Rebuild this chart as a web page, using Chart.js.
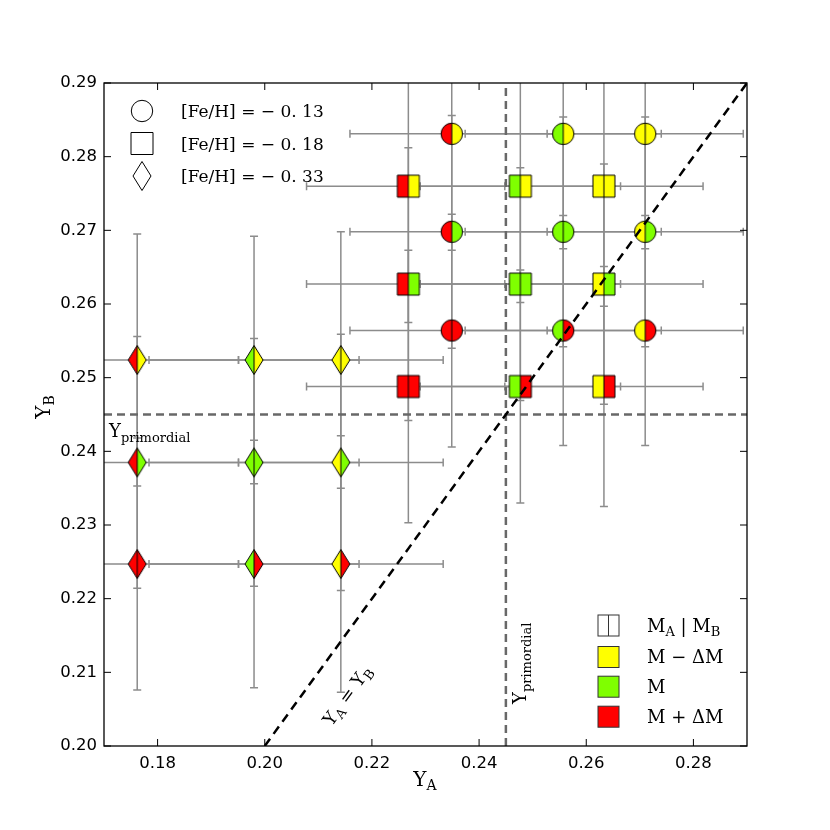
<!DOCTYPE html>
<html>
<head>
<meta charset="utf-8">
<script src="https://cdn.jsdelivr.net/npm/chart.js@4.4.0/dist/chart.umd.min.js"></script>
<style>
  html, body { margin: 0; padding: 0; background: #fff; }
</style>
</head>
<body>
<canvas id="grafico" width="830" height="830"></canvas>
<script>
// circulos: [Fe/H] = -0.13
const circuloYA = [0.2349, 0.2557, 0.2710];
const circuloYB = [0.2831, 0.2698, 0.2564];
const circuloMassaA = ['alta', 'media', 'baixa'];
const circuloMassaB = ['baixa', 'media', 'alta'];
const circuloErroA = [0.0190, 0.0183, 0.0183];
const circuloErroB = [0.0158, 0.0156, 0.0156];

// quadrados: [Fe/H] = -0.18
const quadradoYA = [0.2268, 0.2477, 0.2633];
const quadradoYB = [0.2760, 0.2627, 0.2488];
const quadradoMassaA = ['alta', 'media', 'baixa'];
const quadradoMassaB = ['baixa', 'media', 'alta'];
const quadradoErroA = [0.0190, 0.0187, 0.0185];
const quadradoErroB = [0.0185, 0.0158, 0.0163];

// losangos: [Fe/H] = -0.33
const losangoYA = [0.1762, 0.1980, 0.2142];
const losangoYB = [0.2524, 0.2385, 0.2247];
const losangoMassaA = ['alta', 'media', 'baixa'];
const losangoMassaB = ['baixa', 'media', 'alta'];
const losangoErroA = [0.0189, 0.0196, 0.0191];
const losangoErroB = [0.0171, 0.0168, 0.0174];

const yPrimordial = 0.245;
const ticksX = [0.18, 0.20, 0.22, 0.24, 0.26, 0.28];
const ticksY = [0.20, 0.21, 0.22, 0.23, 0.24, 0.25, 0.26, 0.27, 0.28, 0.29];

const coresMassa = { baixa: '#ffff00', media: '#7fff00', alta: '#ff0000' };

const grupos = [
    { forma: 'circulo', ya: circuloYA, yb: circuloYB, ma: circuloMassaA, mb: circuloMassaB, ea: circuloErroA, eb: circuloErroB },
    { forma: 'quadrado', ya: quadradoYA, yb: quadradoYB, ma: quadradoMassaA, mb: quadradoMassaB, ea: quadradoErroA, eb: quadradoErroB },
    { forma: 'losango', ya: losangoYA, yb: losangoYB, ma: losangoMassaA, mb: losangoMassaB, ea: losangoErroA, eb: losangoErroB }
];

function caminhoForma(ctx, forma, cx, cy) {
    ctx.beginPath();
    if (forma === 'circulo') {
        ctx.arc(cx, cy, 10.7, 0, Math.PI * 2);
    } else if (forma === 'quadrado') {
        ctx.rect(cx - 11, cy - 11, 22, 22);
    } else {
        ctx.moveTo(cx, cy - 14.5);
        ctx.lineTo(cx + 9, cy);
        ctx.lineTo(cx, cy + 14.5);
        ctx.lineTo(cx - 9, cy);
        ctx.closePath();
    }
}

const cacheMarcadores = {};
function marcador(forma, esq, dir) {
    const chave = forma + esq + dir;
    if (cacheMarcadores[chave]) return cacheMarcadores[chave];
    const c = document.createElement('canvas');
    c.width = 26; c.height = 34;
    const g = c.getContext('2d');
    const cx = 13, cy = 17;
    caminhoForma(g, forma, cx, cy);
    g.save();
    g.clip();
    g.fillStyle = esq; g.fillRect(0, 0, cx, 34);
    g.fillStyle = dir; g.fillRect(cx, 0, 13, 34);
    g.restore();
    g.strokeStyle = '#000'; g.lineWidth = 1;
    g.beginPath(); g.moveTo(cx, 0); g.lineTo(cx, 34);
    g.save(); caminhoForma(g, forma, cx, cy); g.clip();
    g.beginPath(); g.moveTo(cx, 0); g.lineTo(cx, 34); g.stroke();
    g.restore();
    caminhoForma(g, forma, cx, cy);
    g.stroke();
    cacheMarcadores[chave] = c;
    return c;
}

function pontos(gr) {
    const lista = [];
    gr.yb.forEach(function (vy, j) {
        gr.ya.forEach(function (vx, i) {
            lista.push({ x: vx, y: vy, a: gr.ma[i], b: gr.mb[j] });
        });
    });
    return lista;
}

// texto com indice (subscrito)
function textoIndice(ctx, partes, x, y, alinhar) {
    let largura = 0;
    partes.forEach(function (p) {
        ctx.font = p.t + 'px "DejaVu Serif"';
        largura += ctx.measureText(p.s).width;
    });
    let px = alinhar === 'center' ? x - largura / 2 : x;
    ctx.textAlign = 'left';
    ctx.textBaseline = 'alphabetic';
    partes.forEach(function (p) {
        ctx.font = p.t + 'px "DejaVu Serif"';
        ctx.fillText(p.s, px, y + (p.dy || 0));
        px += ctx.measureText(p.s).width;
    });
}

const pluginDecoracao = {
    id: 'decoracao',
    beforeDatasetsDraw(chart) {
        const ctx = chart.ctx, a = chart.chartArea, sx = chart.scales.x, sy = chart.scales.y;
        ctx.save();
        ctx.beginPath(); ctx.rect(a.left, a.top, a.right - a.left, a.bottom - a.top); ctx.clip();
        ctx.strokeStyle = '#8c8c8c';
        ctx.lineWidth = 1.5;
        grupos.forEach(function (gr) {
            gr.yb.forEach(function (vy) {
                gr.ya.forEach(function (vx, i) {
                    const px = sx.getPixelForValue(vx), py = sy.getPixelForValue(vy);
                    const x0 = sx.getPixelForValue(vx - gr.ea[i]), x1 = sx.getPixelForValue(vx + gr.ea[i]);
                    const y0 = sy.getPixelForValue(vy - gr.eb[i]), y1 = sy.getPixelForValue(vy + gr.eb[i]);
                    ctx.beginPath();
                    ctx.moveTo(x0, py); ctx.lineTo(x1, py);
                    ctx.moveTo(px, y0); ctx.lineTo(px, y1);
                    ctx.moveTo(x0, py - 4); ctx.lineTo(x0, py + 4);
                    ctx.moveTo(x1, py - 4); ctx.lineTo(x1, py + 4);
                    ctx.moveTo(px - 4, y0); ctx.lineTo(px + 4, y0);
                    ctx.moveTo(px - 4, y1); ctx.lineTo(px + 4, y1);
                    ctx.stroke();
                });
            });
        });
        ctx.restore();
    },
    afterDraw(chart) {
        const ctx = chart.ctx, a = chart.chartArea, sx = chart.scales.x, sy = chart.scales.y;
        ctx.save();
        // moldura e ticks para dentro
        ctx.strokeStyle = '#000';
        ctx.lineWidth = 1.3;
        ctx.strokeRect(a.left, a.top, a.right - a.left, a.bottom - a.top);
        ctx.lineWidth = 1;
        ctx.beginPath();
        ticksX.forEach(function (v) {
            const p = sx.getPixelForValue(v);
            ctx.moveTo(p, a.bottom); ctx.lineTo(p, a.bottom - 7);
            ctx.moveTo(p, a.top); ctx.lineTo(p, a.top + 7);
        });
        ticksY.forEach(function (v) {
            const p = sy.getPixelForValue(v);
            ctx.moveTo(a.left, p); ctx.lineTo(a.left + 7, p);
            ctx.moveTo(a.right, p); ctx.lineTo(a.right - 7, p);
        });
        ctx.stroke();

        ctx.fillStyle = '#000';
        // titulos dos eixos
        textoIndice(ctx, [{ s: 'Y', t: 20 }, { s: 'A', t: 14, dy: 4 }], 425, 786, 'center');
        ctx.save();
        ctx.translate(50, 407);
        ctx.rotate(-Math.PI / 2);
        textoIndice(ctx, [{ s: 'Y', t: 20 }, { s: 'B', t: 14, dy: 4 }], 0, 0, 'center');
        ctx.restore();

        // Y primordial
        textoIndice(ctx, [{ s: 'Y', t: 18 }, { s: 'primordial', t: 13, dy: 5 }], 109, 437, 'left');
        ctx.save();
        ctx.translate(526, 704);
        ctx.rotate(-Math.PI / 2);
        textoIndice(ctx, [{ s: 'Y', t: 18 }, { s: 'primordial', t: 13, dy: 5 }], 0, 0, 'left');
        ctx.restore();

        // YA = YB ao longo da diagonal
        ctx.save();
        ctx.translate(352, 699);
        ctx.rotate(-Math.atan2(sy.getPixelForValue(0.2) - sy.getPixelForValue(0.29), sx.getPixelForValue(0.29) - sx.getPixelForValue(0.2)));
        textoIndice(ctx, [{ s: 'Y', t: 18 }, { s: 'A', t: 13, dy: 4 }, { s: ' = ', t: 18 }, { s: 'Y', t: 18 }, { s: 'B', t: 13, dy: 4 }], 0, 0, 'center');
        ctx.restore();

        // legenda das metalicidades
        const legendaFe = [
            { forma: 'circulo', y: 111, txt: '[Fe/H] = \u2212 0. 13' },
            { forma: 'quadrado', y: 143.5, txt: '[Fe/H] = \u2212 0. 18' },
            { forma: 'losango', y: 176, txt: '[Fe/H] = \u2212 0. 33' }
        ];
        legendaFe.forEach(function (l) {
            caminhoForma(ctx, l.forma, 142, l.y);
            ctx.fillStyle = '#fff'; ctx.fill();
            ctx.strokeStyle = '#000'; ctx.lineWidth = 1; ctx.stroke();
            ctx.fillStyle = '#000';
            textoIndice(ctx, [{ s: l.txt, t: 17 }], 181, l.y + 6, 'left');
        });

        // legenda das massas
        const legendaM = [
            { y: 625.5, esq: '#fff', dir: '#fff', partes: [{ s: 'M', t: 18 }, { s: 'A', t: 13, dy: 4 }, { s: ' | M', t: 18 }, { s: 'B', t: 13, dy: 4 }] },
            { y: 657, esq: coresMassa.baixa, dir: coresMassa.baixa, partes: [{ s: 'M \u2212 \u0394M', t: 18 }] },
            { y: 686.7, esq: coresMassa.media, dir: coresMassa.media, partes: [{ s: 'M', t: 18 }] },
            { y: 716.7, esq: coresMassa.alta, dir: coresMassa.alta, partes: [{ s: 'M + \u0394M', t: 18 }] }
        ];
        legendaM.forEach(function (l, k) {
            ctx.fillStyle = l.esq;
            ctx.fillRect(598, l.y - 10.5, 21, 21);
            ctx.strokeStyle = '#333'; ctx.lineWidth = 1;
            ctx.strokeRect(598, l.y - 10.5, 21, 21);
            if (k === 0) {
                ctx.beginPath(); ctx.moveTo(608.5, l.y - 10.5); ctx.lineTo(608.5, l.y + 10.5); ctx.stroke();
            }
            ctx.fillStyle = '#000';
            textoIndice(ctx, l.partes, 647, l.y + 6, 'left');
        });
        ctx.restore();
    }
};

const datasets = grupos.map(function (gr) {
    return {
        data: pontos(gr),
        order: 1,
        pointRadius: 11,
        pointStyle: function (c) {
            const r = c.raw;
            if (!r) return 'circle';
            return marcador(gr.forma, coresMassa[r.a], coresMassa[r.b]);
        }
    };
});

datasets.push({
    data: [{ x: 0.20, y: 0.20 }, { x: 0.29, y: 0.29 }],
    showLine: true, order: 0, pointRadius: 0,
    borderColor: '#000', borderWidth: 2.5, borderDash: [9, 6]
});
datasets.push({
    data: [{ x: yPrimordial, y: 0.20 }, { x: yPrimordial, y: 0.29 }],
    showLine: true, order: 0, pointRadius: 0,
    borderColor: '#686868', borderWidth: 2.5, borderDash: [8, 5]
});
datasets.push({
    data: [{ x: 0.17, y: yPrimordial }, { x: 0.29, y: yPrimordial }],
    showLine: true, order: 0, pointRadius: 0,
    borderColor: '#686868', borderWidth: 2.5, borderDash: [8, 5]
});

new Chart(document.getElementById('grafico').getContext('2d'), {
    type: 'scatter',
    data: { datasets: datasets },
    options: {
        responsive: false,
        animation: false,
        devicePixelRatio: 1,
        events: [],
        layout: { padding: { top: 83, right: 83, left: 0, bottom: 0 } },
        plugins: { legend: { display: false }, tooltip: { enabled: false } },
        scales: {
            x: {
                min: 0.17, max: 0.29,
                grid: { display: false, drawTicks: false },
                border: { display: false },
                afterBuildTicks: function (s) { s.ticks = ticksX.map(function (v) { return { value: v }; }); },
                afterFit: function (s) { s.height = 84; },
                ticks: {
                    padding: 8, color: '#000',
                    font: { family: 'DejaVu Sans', size: 16.5 },
                    callback: function (v) { return Number(v).toFixed(2); }
                }
            },
            y: {
                min: 0.20, max: 0.29,
                grid: { display: false, drawTicks: false },
                border: { display: false },
                afterBuildTicks: function (s) { s.ticks = ticksY.map(function (v) { return { value: v }; }); },
                afterFit: function (s) { s.width = 104; },
                ticks: {
                    padding: 7, color: '#000',
                    font: { family: 'DejaVu Sans', size: 16.5 },
                    callback: function (v) { return Number(v).toFixed(2); }
                }
            }
        }
    },
    plugins: [pluginDecoracao]
});
</script>
</body>
</html>
